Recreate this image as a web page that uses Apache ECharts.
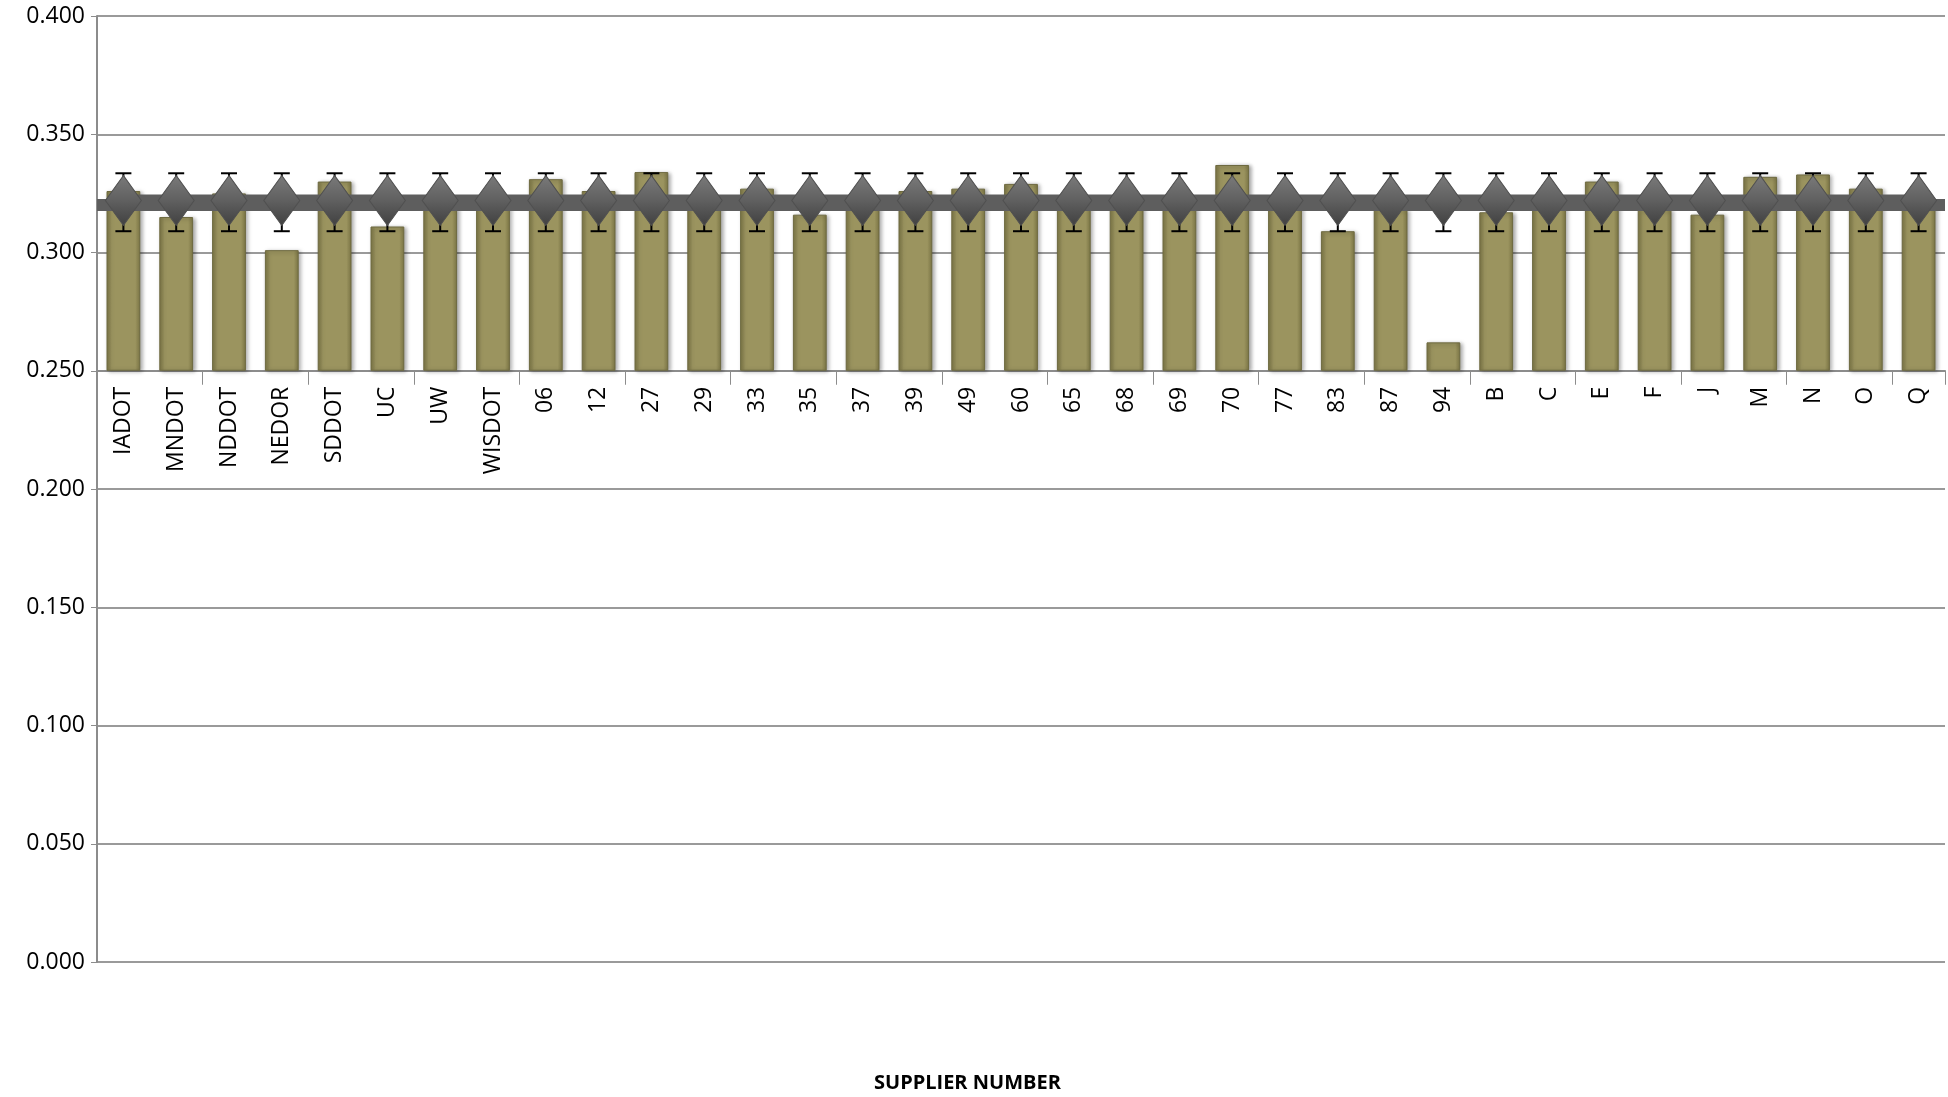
<!DOCTYPE html>
<html>
<head>
<meta charset="utf-8">
<script src="https://cdn.jsdelivr.net/npm/echarts@6/dist/echarts.min.js"></script>
<style>html,body{margin:0;padding:0;background:#fff}#chart{width:1948px;height:1097px}</style>
</head>
<body>
<div id="chart"></div>
<script>
var suppliers = ['IADOT','MNDOT','NDDOT','NEDOR','SDDOT','UC','UW','WISDOT','06','12','27','29','33','35','37','39','49','60','65','68','69','70','77','83','87','94','B','C','E','F','J','M','N','O','Q'];
var values = [0.326,0.315,0.325,0.301,0.330,0.311,0.319,0.321,0.331,0.326,0.334,0.321,0.327,0.316,0.320,0.326,0.327,0.329,0.321,0.320,0.319,0.337,0.321,0.309,0.318,0.262,0.317,0.321,0.330,0.318,0.316,0.332,0.333,0.327,0.320];
// category axis crosses the value axis at this level
var baseline = 0.250;
var overallMean = 0.322;
var errLow = 0.309, errHigh = 0.3335;

var chart = echarts.init(document.getElementById('chart'));
var font = '"Open Sans", "Liberation Sans", sans-serif';
var gridH = 946;
// values are plotted relative to the baseline so the bars start at the crossing
function rel(v) { return +(v - baseline).toFixed(4); }

chart.setOption({
  animation: false,
  grid: {left: 97, right: 3, top: 16, height: gridH},
  xAxis: [{
    type: 'category', data: suppliers,
    axisLine: {onZero: true, lineStyle: {color: '#8c8c8c', width: 2}},
    axisTick: {show: true, length: 14, lineStyle: {color: '#8c8c8c'}},
    axisLabel: {show: false}
  }, {
    type: 'category', data: suppliers, position: 'bottom',
    offset: -(baseline / 0.4) * gridH,
    axisLine: {show: false}, axisTick: {show: false},
    axisLabel: {rotate: 90, fontSize: 23, color: '#000', fontFamily: font, margin: 16}
  }],
  yAxis: {
    type: 'value', min: -0.25, max: 0.15, interval: 0.05,
    axisLine: {show: true, lineStyle: {color: '#8c8c8c', width: 2}},
    axisTick: {show: true, length: 6, lineStyle: {color: '#8c8c8c'}},
    splitLine: {lineStyle: {color: '#9a9a9a', width: 2}},
    axisLabel: {fontSize: 23, color: '#000', fontFamily: font, margin: 12,
      formatter: function (v) { return (v + baseline).toFixed(3); }}
  },
  graphic: [{type: 'text', left: 874, top: 1073,
    style: {text: 'SUPPLIER NUMBER', font: 'bold 20px ' + font, fill: '#000'}}],
  series: [
    {type: 'bar', xAxisIndex: 0, barWidth: '64%',
      itemStyle: {
        color: {type: 'linear', x: 0, y: 0, x2: 1, y2: 0, colorStops: [
          {offset: 0, color: '#7d7746'}, {offset: 0.15, color: '#9b945f'},
          {offset: 0.85, color: '#9b945f'}, {offset: 1, color: '#7d7746'}]},
        borderColor: '#6e6a40', borderWidth: 1,
        shadowColor: 'rgba(0,0,0,0.35)', shadowBlur: 4, shadowOffsetX: 2, shadowOffsetY: 1
      },
      data: values.map(rel)},
    {type: 'custom', xAxisIndex: 0, z: 5,
      renderItem: function (params, api) {
        var x = api.value(0);
        var hi = api.coord([x, api.value(2)]);
        var lo = api.coord([x, api.value(1)]);
        var c = 8;
        var st = {stroke: '#000', lineWidth: 2};
        return {type: 'group', children: [
          {type: 'line', shape: {x1: hi[0], y1: hi[1], x2: lo[0], y2: lo[1]}, style: st},
          {type: 'line', shape: {x1: hi[0] - c, y1: hi[1], x2: hi[0] + c, y2: hi[1]}, style: st},
          {type: 'line', shape: {x1: lo[0] - c, y1: lo[1], x2: lo[0] + c, y2: lo[1]}, style: st}
        ]};
      },
      data: suppliers.map(function (s, i) { return [i, rel(errLow), rel(errHigh)]; })},
    {type: 'line', xAxisIndex: 0, z: 6, symbol: 'diamond', symbolSize: [36, 50],
      showSymbol: true, showAllSymbol: true,
      lineStyle: {color: '#5e5e5e', width: 12},
      itemStyle: {color: {type: 'linear', x: 0, y: 0, x2: 0, y2: 1, colorStops: [
        {offset: 0, color: '#7a7a7a'}, {offset: 0.5, color: '#606060'}, {offset: 1, color: '#404040'}]},
        borderColor: '#505050', borderWidth: 1},
      markLine: {silent: true, symbol: 'none', label: {show: false},
        lineStyle: {color: '#5e5e5e', width: 12, type: 'solid'},
        data: [{yAxis: rel(overallMean)}]},
      data: suppliers.map(function () { return rel(overallMean); })}
  ]
});
</script>
</body>
</html>
